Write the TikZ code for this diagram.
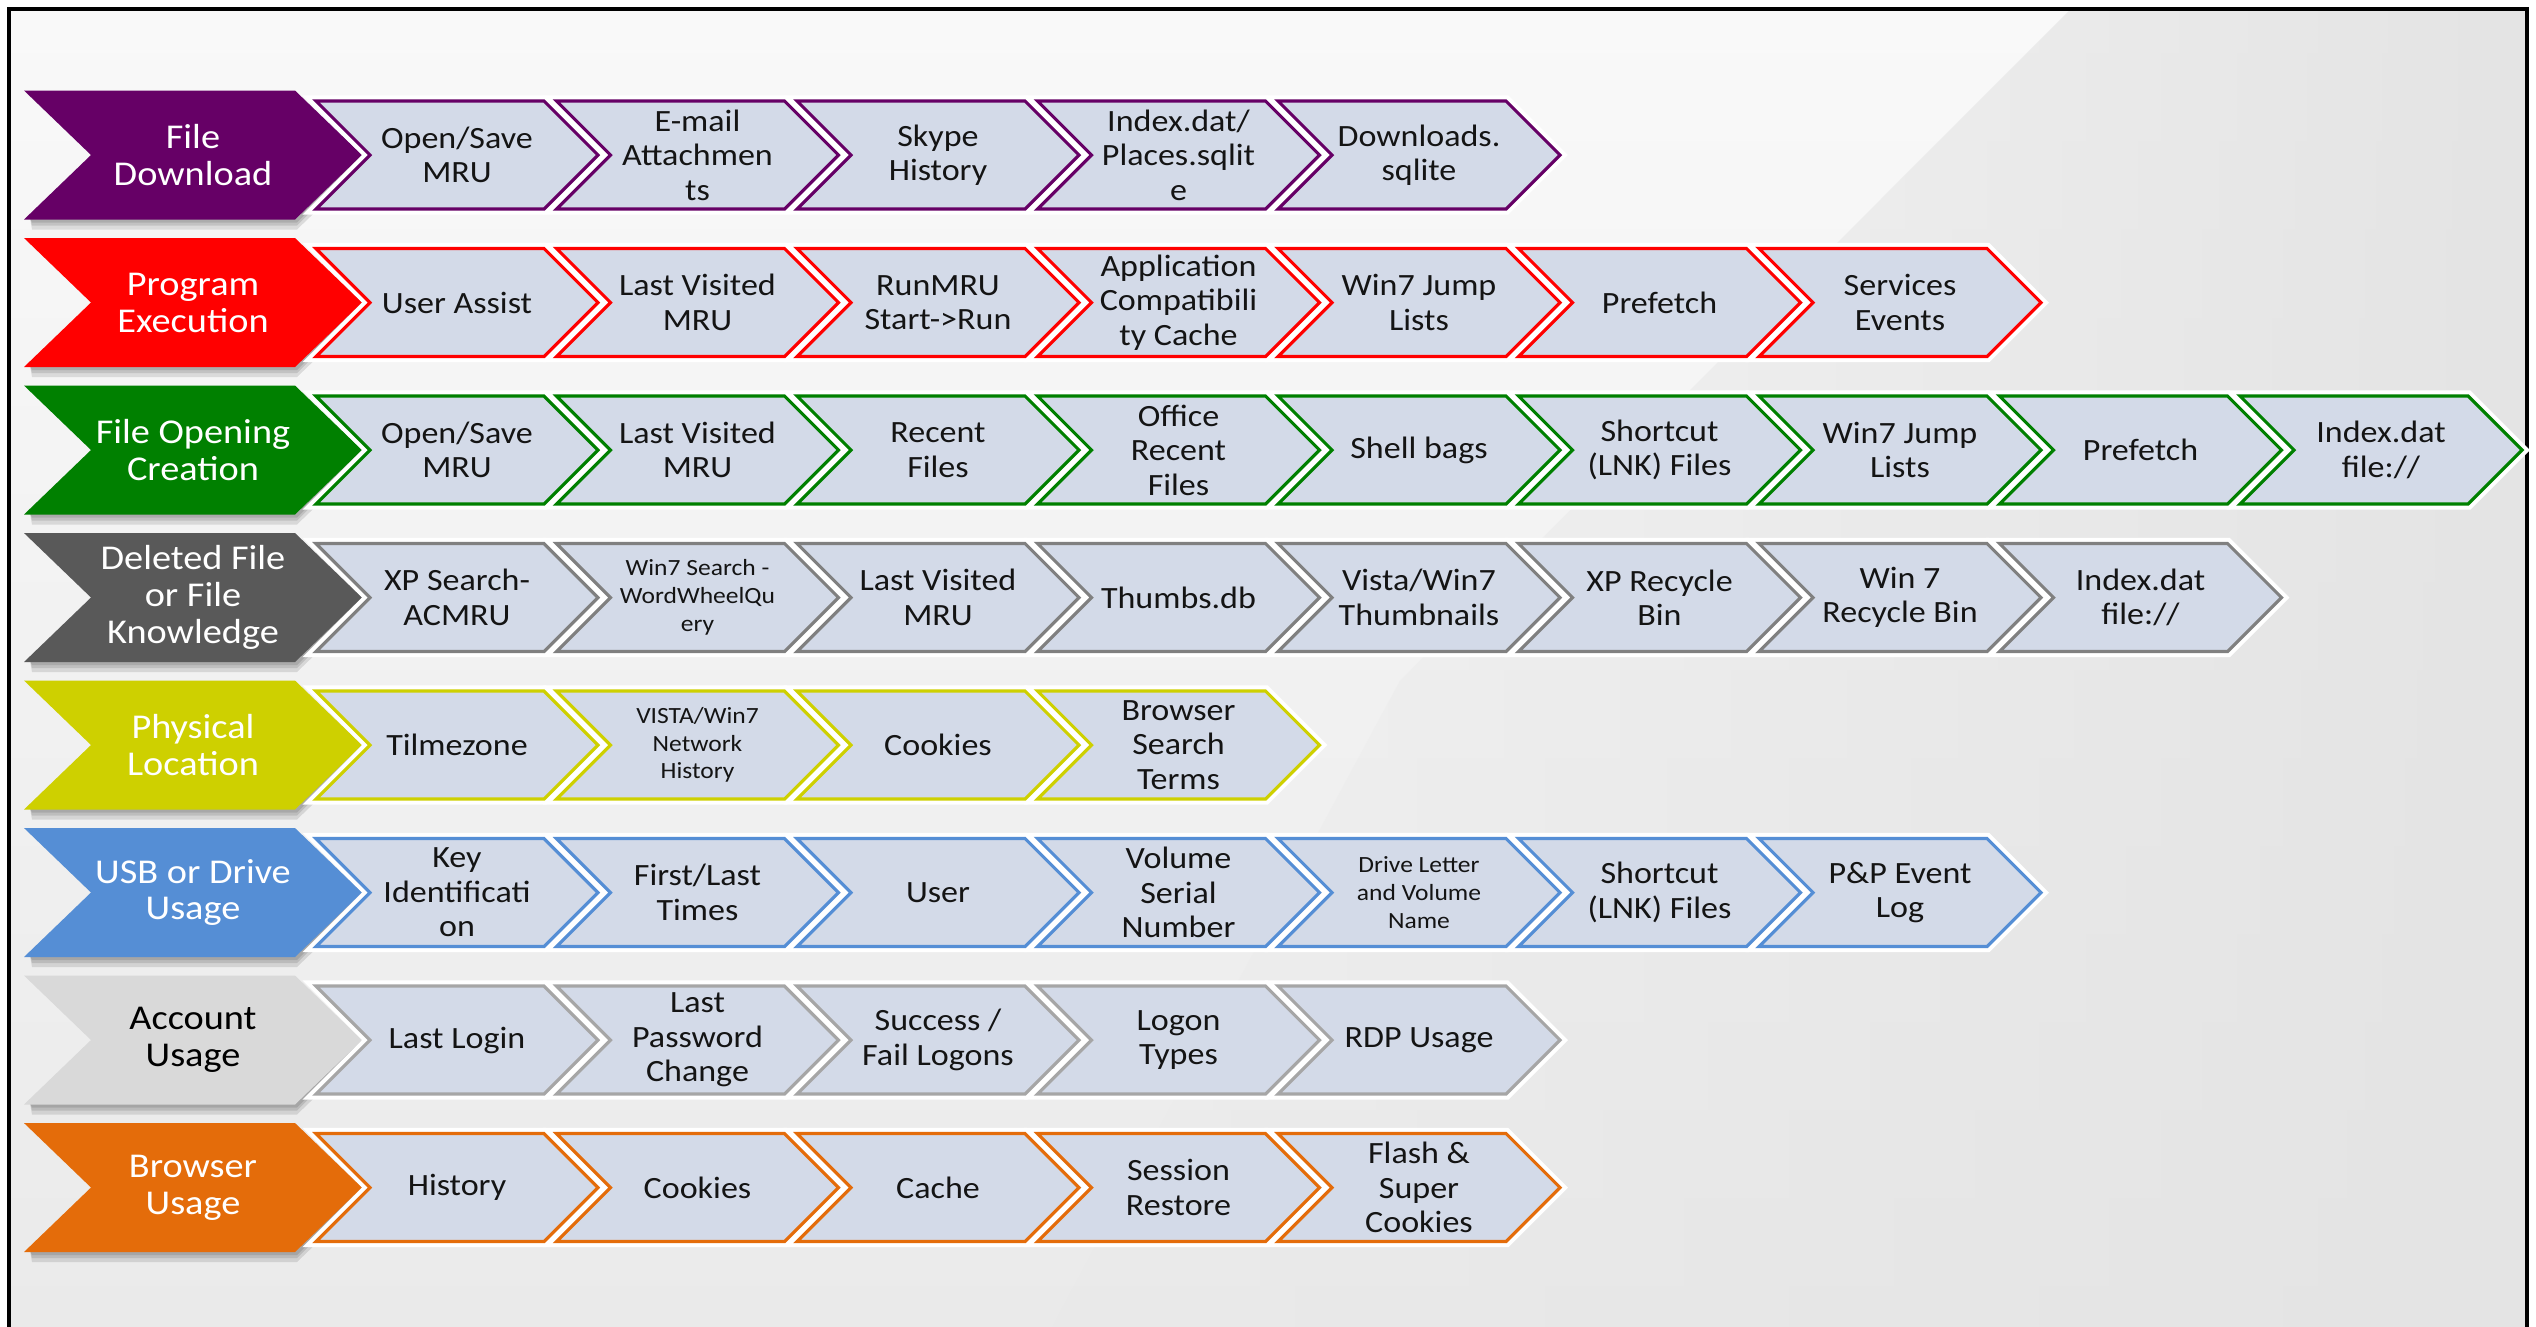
\documentclass[tikz,border=0pt]{standalone}
\usepackage{fontspec}
\setmainfont[FakeStretch=1.1]{Carlito}
\usetikzlibrary{fadings}

\definecolor{cPurple}{RGB}{102,0,102}
\definecolor{cRed}{RGB}{255,0,0}
\definecolor{cGreen}{RGB}{0,128,0}
\definecolor{cDGray}{RGB}{89,89,89}
\definecolor{cYellow}{RGB}{206,208,0}
\definecolor{cBlue}{RGB}{85,142,213}
\definecolor{cLGray}{RGB}{217,217,217}
\definecolor{cOrange}{RGB}{228,108,10}
\definecolor{bGray}{RGB}{128,128,128}
\definecolor{bLGray}{RGB}{166,166,166}
\definecolor{itemfill}{RGB}{211,218,232}
\definecolor{bglight}{RGB}{249,249,249}
\definecolor{bgbottom}{RGB}{234,234,234}
\definecolor{bgright}{RGB}{228,228,228}
\definecolor{txt}{RGB}{20,20,20}

\tikzset{
  itemshape/.style={fill=itemfill, line width=0.9pt, line join=miter,
    preaction={draw=white, line width=3.2pt, line join=miter}},
  itemtext/.style={align=center, inner sep=0pt, text=txt,
    font=\fontsize{8.8}{9.8}\selectfont},
  smalltext/.style={align=center, inner sep=0pt, text=txt,
    font=\fontsize{6.6}{7.9}\selectfont},
  headtext/.style={align=center, inner sep=0pt,
    font=\fontsize{9.9}{10.5}\selectfont},
  headshadow/.style={fill=black, opacity=0.11},
}

\newcommand{\headbox}[5]{%
  \foreach \o in {3,6,10}{%
    \fill[headshadow] (30,#2+63) -- (295,#2+63) -- (361,#2+1)
      -- (361+0.3*\o,#2+\o) -- (297,#2+64.5+\o) -- (32,#2+64.5+\o) -- cycle;
  }
  \fill[#3] (24,#2-64.5) -- (295,#2-64.5) -- (362,#2) -- (295,#2+64.5)
     -- (24,#2+64.5) -- (91,#2) -- cycle;
  \node[headtext, text=#4] (#1) at (193,#2) {#5};
}
\newcommand{\itembox}[6]{%
  \pgfmathsetmacro{\xl}{316+240.5*#2}
  \filldraw[itemshape, draw=#4] (\xl,#3-54) -- ++(228,0) -- ++(54,54) -- ++(-54,54)
     -- ++(-228,0) -- ++(54,-54) -- cycle;
  \node[#5] (#1) at (\xl+141,#3) {#6};
}

\begin{document}
\begin{tikzpicture}[x=0.01cm,y=-0.01cm]
\useasboundingbox (0,0) rectangle (2536,1326);
% background
\fill[white] (0,0) rectangle (2536,1326);
\shade[top color=bglight, bottom color=bgbottom] (9,9) rectangle (2527,1330);
\fill[bgright, path fading=west] (2070,9) -- (2527,9) -- (2527,1330) -- (1050,1330) -- (1400,680) -- cycle;
\draw[line width=1.15pt] (9,1330) -- (9,9) -- (2527,9) -- (2527,1330);

% Row 1
\headbox{h1}{155}{cPurple}{white}{File\\Download}
\itembox{r1a}{0}{155}{cPurple}{itemtext}{Open/Save\\MRU}
\itembox{r1b}{1}{155}{cPurple}{itemtext}{E-mail\\Attachmen\\ts}
\itembox{r1c}{2}{155}{cPurple}{itemtext}{Skype\\History}
\itembox{r1d}{3}{155}{cPurple}{itemtext}{Index.dat/\\Places.sqlit\\e}
\itembox{r1e}{4}{155}{cPurple}{itemtext}{Downloads.\\sqlite}

% Row 2
\headbox{h2}{302.5}{cRed}{white}{Program\\Execution}
\itembox{r2a}{0}{302.5}{cRed}{itemtext}{User Assist}
\itembox{r2b}{1}{302.5}{cRed}{itemtext}{Last Visited\\MRU}
\itembox{r2c}{2}{302.5}{cRed}{itemtext}{RunMRU\\Start-{}>Run}
\itembox{r2d}{3}{302.5}{cRed}{itemtext}{Application\\Compatibili\\ty Cache}
\itembox{r2e}{4}{302.5}{cRed}{itemtext}{Win7 Jump\\Lists}
\itembox{r2f}{5}{302.5}{cRed}{itemtext}{Prefetch}
\itembox{r2g}{6}{302.5}{cRed}{itemtext}{Services\\Events}

% Row 3
\headbox{h3}{450}{cGreen}{white}{File Opening\\Creation}
\itembox{r3a}{0}{450}{cGreen}{itemtext}{Open/Save\\MRU}
\itembox{r3b}{1}{450}{cGreen}{itemtext}{Last Visited\\MRU}
\itembox{r3c}{2}{450}{cGreen}{itemtext}{Recent\\Files}
\itembox{r3d}{3}{450}{cGreen}{itemtext}{Office\\Recent\\Files}
\itembox{r3e}{4}{450}{cGreen}{itemtext}{Shell bags}
\itembox{r3f}{5}{450}{cGreen}{itemtext}{Shortcut\\(LNK) Files}
\itembox{r3g}{6}{450}{cGreen}{itemtext}{Win7 Jump\\Lists}
\itembox{r3h}{7}{450}{cGreen}{itemtext}{Prefetch}
\itembox{r3i}{8}{450}{cGreen}{itemtext}{Index.dat\\file://}

% Row 4
\headbox{h4}{597.5}{cDGray}{white}{Deleted File\\or File\\Knowledge}
\itembox{r4a}{0}{597.5}{bGray}{itemtext}{XP Search-\\ACMRU}
\itembox{r4b}{1}{597.5}{bGray}{smalltext}{Win7 Search -\\WordWheelQu\\ery}
\itembox{r4c}{2}{597.5}{bGray}{itemtext}{Last Visited\\MRU}
\itembox{r4d}{3}{597.5}{bGray}{itemtext}{Thumbs.db}
\itembox{r4e}{4}{597.5}{bGray}{itemtext}{Vista/Win7\\Thumbnails}
\itembox{r4f}{5}{597.5}{bGray}{itemtext}{XP Recycle\\Bin}
\itembox{r4g}{6}{597.5}{bGray}{itemtext}{Win 7\\Recycle Bin}
\itembox{r4h}{7}{597.5}{bGray}{itemtext}{Index.dat\\file://}

% Row 5
\headbox{h5}{745}{cYellow}{white}{Physical\\Location}
\itembox{r5a}{0}{745}{cYellow}{itemtext}{Tilmezone}
\itembox{r5b}{1}{745}{cYellow}{smalltext}{VISTA/Win7\\Network\\History}
\itembox{r5c}{2}{745}{cYellow}{itemtext}{Cookies}
\itembox{r5d}{3}{745}{cYellow}{itemtext}{Browser\\Search\\Terms}

% Row 6
\headbox{h6}{892.5}{cBlue}{white}{USB or Drive\\Usage}
\itembox{r6a}{0}{892.5}{cBlue}{itemtext}{Key\\Identificati\\on}
\itembox{r6b}{1}{892.5}{cBlue}{itemtext}{First/Last\\Times}
\itembox{r6c}{2}{892.5}{cBlue}{itemtext}{User}
\itembox{r6d}{3}{892.5}{cBlue}{itemtext}{Volume\\Serial\\Number}
\itembox{r6e}{4}{892.5}{cBlue}{smalltext}{Drive Letter\\and Volume\\Name}
\itembox{r6f}{5}{892.5}{cBlue}{itemtext}{Shortcut\\(LNK) Files}
\itembox{r6g}{6}{892.5}{cBlue}{itemtext}{P\&P Event\\Log}

% Row 7
\headbox{h7}{1040}{cLGray}{black}{Account\\Usage}
\itembox{r7a}{0}{1040}{bLGray}{itemtext}{Last Login}
\itembox{r7b}{1}{1040}{bLGray}{itemtext}{Last\\Password\\Change}
\itembox{r7c}{2}{1040}{bLGray}{itemtext}{Success /\\Fail Logons}
\itembox{r7d}{3}{1040}{bLGray}{itemtext}{Logon\\Types}
\itembox{r7e}{4}{1040}{bLGray}{itemtext}{RDP Usage}

% Row 8
\headbox{h8}{1187.5}{cOrange}{white}{Browser\\Usage}
\itembox{r8a}{0}{1187.5}{cOrange}{itemtext}{History}
\itembox{r8b}{1}{1187.5}{cOrange}{itemtext}{Cookies}
\itembox{r8c}{2}{1187.5}{cOrange}{itemtext}{Cache}
\itembox{r8d}{3}{1187.5}{cOrange}{itemtext}{Session\\Restore}
\itembox{r8e}{4}{1187.5}{cOrange}{itemtext}{Flash \&\\Super\\Cookies}
\end{tikzpicture}
\end{document}
